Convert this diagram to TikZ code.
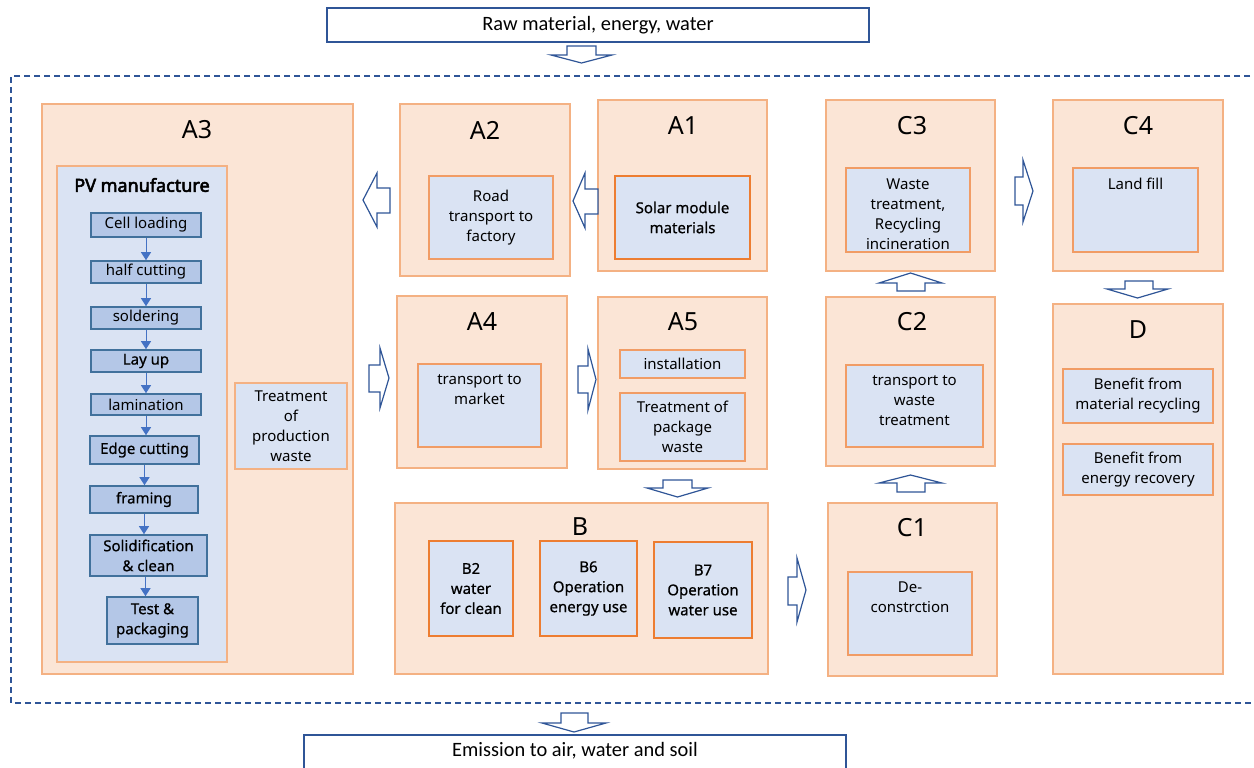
\documentclass[tikz,border=0pt]{standalone}
\usepackage{fontspec}
\setmainfont{Noto Sans}
\newfontfamily\condfont{Carlito}
\newfontfamily\boldnoto[FakeBold=3]{Noto Sans}
\newfontfamily\mednoto[FakeBold=0.6]{Noto Sans}
\usetikzlibrary{arrows.meta,calc}
\definecolor{peach}{HTML}{FBE5D6}
\definecolor{orangeL}{HTML}{F4B183}
\definecolor{orangeM}{HTML}{F19C65}
\definecolor{orangeD}{HTML}{ED7D31}
\definecolor{lblue}{HTML}{DAE3F3}
\definecolor{smid}{HTML}{B4C7E7}
\definecolor{sdark}{HTML}{41719C}
\definecolor{sarrow}{HTML}{4472C4}
\definecolor{bdark}{HTML}{2F5597}
\newcommand\mytxt{\fontsize{7.5}{10}\selectfont}
\newcommand\mymed{\mednoto\fontsize{7.5}{10}\selectfont}
\newcommand\mylab{\fontsize{12.5}{14}\selectfont}
\begin{document}
\begin{tikzpicture}[x=0.5pt,y=-0.5pt,
  obox/.style={draw=orangeL, fill=peach, line width=0.75pt, inner sep=0pt},
  ibox/.style={draw=orangeM, fill=lblue, line width=0.6pt, inner sep=0pt, align=center, font=\mytxt},
  tbox/.style={ibox, draw=orangeD, line width=1.1pt, font=\mymed},
  stepbox/.style={draw=sdark, fill=smid, line width=0.8pt, inner sep=0pt, align=center, font=\mytxt},
  medstep/.style={stepbox, font=\mymed},
  lab/.style={font=\mylab, inner sep=0pt},
  txt/.style={align=center, font=\mytxt, inner sep=0pt},
  blk/.style={draw=bdark, fill=white, line width=0.6pt, line join=miter},
  stp/.style={draw=sarrow, line width=0.5pt, -{Triangle[width=5pt,length=4pt]}},
  io/.style={draw=bdark, fill=white, line width=0.8pt, inner sep=0pt}]
\useasboundingbox (0,0) rectangle (1254,767);
\clip (0,0) rectangle (1254,767);

% input / output
\node[io, minimum width=271pt, minimum height=17pt] (raw) at (598,25) {};
\node[font=\condfont\fontsize{10.2}{12}\selectfont, inner sep=0pt] (rawt) at (598,25) {Raw material, energy, water};
\node[io, minimum width=271pt, minimum height=40pt, anchor=north] (emi) at (575,734) {};
\node[font=\condfont\fontsize{10.2}{12}\selectfont, inner sep=0pt] (emit) at (575,751) {Emission to air, water and soil};

% system boundary
\draw[bdark, line width=0.6pt, dash pattern=on 3pt off 2pt] (1270,76) -- (11,76) -- (11,703) -- (1270,703);

% outer boxes
\node[obox, minimum width=155.5pt, minimum height=285pt] (A3) at (197.5,389) {};
\node[obox, minimum width=85pt, minimum height=86pt] (A2) at (485,190) {};
\node[obox, minimum width=84.5pt, minimum height=85.5pt] (A1) at (682.5,185.5) {};
\node[obox, minimum width=85pt, minimum height=86pt] (A4) at (482,382) {};
\node[obox, minimum width=84.5pt, minimum height=86pt] (A5) at (682.5,383) {};
\node[obox, minimum width=186.5pt, minimum height=85.5pt] (B) at (581.5,588.5) {};
\node[obox, minimum width=84.5pt, minimum height=86.5pt] (C1) at (912.5,589.5) {};
\node[obox, minimum width=84.5pt, minimum height=84.5pt] (C2) at (910.5,381.5) {};
\node[obox, minimum width=84.5pt, minimum height=85.5pt] (C3) at (910.5,185.5) {};
\node[obox, minimum width=85pt, minimum height=85.5pt] (C4) at (1138,185.5) {};
\node[obox, minimum width=85pt, minimum height=185pt] (D) at (1138,489) {};

% labels
\node[lab] (lA3) at (197,130) {A3};
\node[lab] (lA2) at (485,130) {A2};
\node[lab] (lA1) at (683,126) {A1};
\node[lab] (lA4) at (482,322) {A4};
\node[lab] (lA5) at (683,322) {A5};
\node[lab] (lB) at (580,527) {B};
\node[lab] (lC1) at (912,528) {C1};
\node[lab] (lC2) at (912,322) {C2};
\node[lab] (lC3) at (912,126) {C3};
\node[lab] (lC4) at (1138,126) {C4};
\node[lab] (lD) at (1138,330) {D};

% A3 content
\node[ibox, draw=orangeL, minimum width=85pt, minimum height=248pt] (pv) at (142,414) {};
\node[font=\boldnoto\fontsize{9}{11}\selectfont, inner sep=0pt] (pvt) at (142,185) {PV manufacture};
\node[ibox, draw=orangeL, minimum width=56pt, minimum height=43pt] (tpw) at (291,426) {Treatment\\of\\production\\waste};

\node[stepbox, minimum width=55pt, minimum height=12pt] (s1) at (146,225) {Cell loading};
\node[stepbox, minimum width=55pt, minimum height=11pt] (s2) at (146,272) {half cutting};
\node[stepbox, minimum width=55pt, minimum height=11pt] (s3) at (146,318) {soldering};
\node[medstep, minimum width=55pt, minimum height=11pt] (s4) at (146,361) {Lay up};
\node[stepbox, minimum width=55pt, minimum height=10.5pt] (s5) at (146,404.5) {lamination};
\node[medstep, minimum width=54.5pt, minimum height=14pt] (s6) at (144.5,450) {Edge cutting};
\node[medstep, minimum width=54pt, minimum height=13.5pt] (s7) at (144,499.5) {framing};
\node[medstep, minimum width=58.5pt, minimum height=20.5pt] (s8) at (148.5,555.5) {Solidification\\\& clean};
\node[medstep, minimum width=45.5pt, minimum height=23.5pt] (s9) at (152.5,620.5) {Test \&\\packaging};

\draw[stp] (s1.south) -- (s1.south |- s2.north);
\draw[stp] (s2.south) -- (s2.south |- s3.north);
\draw[stp] (s3.south) -- (s3.south |- s4.north);
\draw[stp] (s4.south) -- (s4.south |- s5.north);
\draw[stp] (s5.south) -- (s5.south |- s6.north);
\draw[stp] (s6.south) -- (s6.south |- s7.north);
\draw[stp] (s7.south) -- (s7.south |- s8.north);
\draw[stp] ([xshift=-1.5pt]s8.south) -- ([xshift=-1.5pt]s8.south |- s9.north);

% A2, A1
\node[ibox, minimum width=62pt, minimum height=41.5pt] (a2i) at (491,217.5) {Road\\transport to\\factory};
\node[tbox, minimum width=67.5pt, minimum height=41.5pt] (a1i) at (682.5,217.5) {Solar module\\materials};

% A4, A5
\node[ibox, minimum width=61.5pt, minimum height=41.5pt] (a4i) at (479.5,405.5) {};
\node[txt, anchor=north] (a4t) at (479.5,374) {transport to\\market};
\node[ibox, minimum width=62.5pt, minimum height=14pt] (inst) at (682.5,364) {installation};
\node[ibox, minimum width=62.5pt, minimum height=34pt] (pkw) at (682.5,427) {Treatment of\\package\\waste};

% B
\node[tbox, minimum width=42pt, minimum height=47.5pt] (b2) at (471,588.5) {B2\\water\\for clean};
\node[tbox, minimum width=48.5pt, minimum height=47.5pt] (b6) at (588.5,588.5) {B6\\Operation\\energy use};
\node[tbox, minimum width=49pt, minimum height=48pt] (b7) at (703,590) {B7\\Operation\\water use};

% C
\node[ibox, minimum width=62pt, minimum height=41.5pt] (c1i) at (910,613.5) {};
\node[txt, anchor=north] (c1t) at (910,581) {De-\\constrction};
\node[ibox, minimum width=68.5pt, minimum height=41pt] (c2i) at (914.5,406) {};
\node[txt, anchor=north] (c2t) at (914.5,375) {transport to\\waste\\treatment};
\node[ibox, minimum width=62pt, minimum height=42pt] (c3i) at (908,210) {};
\node[txt, anchor=north] (c3t) at (908,178) {Waste\\treatment,\\Recycling\\incineration};
\node[ibox, minimum width=62.5pt, minimum height=42pt] (c4i) at (1135.5,210) {};
\node[txt, anchor=north] (c4t) at (1135.5,178) {Land fill};

% D
\node[ibox, minimum width=75pt, minimum height=27pt] (d1) at (1138,396) {Benefit from\\material recycling};
\node[ibox, minimum width=75pt, minimum height=25.5pt] (d2) at (1138,469.5) {Benefit from\\energy recovery};

% block arrows
% left arrows
\draw[blk] (390,188) -- (377,188) -- (377,173) -- (363,200) -- (377,227) -- (377,213) -- (390,213) -- cycle;
\draw[blk] (598,189) -- (585,189) -- (585,173) -- (573,201) -- (585,228) -- (585,214) -- (598,214) -- cycle;
% right arrows
\draw[blk] (369,365) -- (380,365) -- (380,348) -- (389,378) -- (380,408) -- (380,392) -- (369,392) -- cycle;
\draw[blk] (578,366) -- (588,366) -- (588,349) -- (596,379.5) -- (588,410) -- (588,393) -- (578,393) -- cycle;
\draw[blk] (788,577) -- (797,577) -- (797,558) -- (806,590) -- (797,622) -- (797,605) -- (788,605) -- cycle;
\draw[blk] (1015,177) -- (1023,177) -- (1023,160) -- (1033,191) -- (1023,222) -- (1023,205) -- (1015,205) -- cycle;
% down arrows
\draw[blk] (567,46) -- (596,46) -- (596,55) -- (612,55) -- (581.5,63) -- (551,55) -- (567,55) -- cycle;
\draw[blk] (663,480) -- (692,480) -- (692,488) -- (708,488) -- (677.5,497) -- (647,488) -- (663,488) -- cycle;
\draw[blk] (1125,281) -- (1153,281) -- (1153,289) -- (1168,289) -- (1137.5,298) -- (1107,289) -- (1125,289) -- cycle;
\draw[blk] (561,713) -- (588,713) -- (588,723) -- (606,723) -- (574,732) -- (542,723) -- (561,723) -- cycle;
% up arrows
\draw[blk] (897,492) -- (925,492) -- (925,483) -- (942,483) -- (910.5,475) -- (879,483) -- (897,483) -- cycle;
\draw[blk] (897,291) -- (925,291) -- (925,283) -- (942,283) -- (910.5,273) -- (879,283) -- (897,283) -- cycle;
\end{tikzpicture}
\end{document}
